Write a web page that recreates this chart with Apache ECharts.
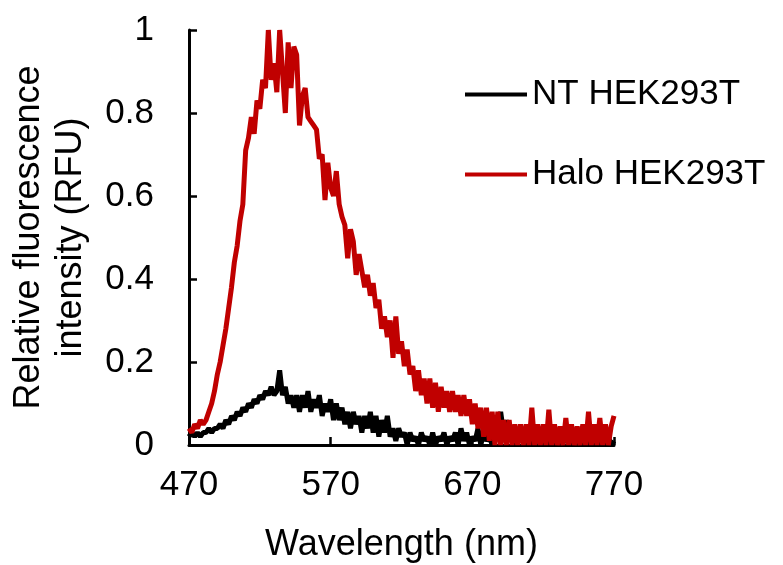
<!DOCTYPE html>
<html>
<head>
<meta charset="utf-8">
<script src="https://cdn.jsdelivr.net/npm/echarts@6/dist/echarts.min.js"></script>
<style>
  html, body { margin: 0; padding: 0; background: #fff; }
  #spectrumChart { width: 783px; height: 565px; }
</style>
</head>
<body>
<div id="spectrumChart"></div>
<script>
// emission spectra, sampled every 2 nm from 470 to 770 nm
const wlStart = 470
const wlStep = 2
const seriesNames = ['NT HEK293T', 'Halo HEK293T']
const xTicks = [470, 570, 670, 770]
const yTicks = [0, 0.2, 0.4, 0.6, 0.8, 1]

const ntValues = [
  0.02, 0.03, 0.02, 0.03, 0.02, 0.03, 0.03, 0.04, 0.03, 0.04,
  0.04, 0.05, 0.04, 0.06, 0.05, 0.07, 0.06, 0.08, 0.07, 0.09,
  0.08, 0.10, 0.09, 0.11, 0.10, 0.12, 0.11, 0.13, 0.12, 0.14,
  0.12, 0.13, 0.18, 0.12, 0.14, 0.10, 0.12, 0.09, 0.12, 0.08,
  0.12, 0.09, 0.13, 0.08, 0.11, 0.09, 0.12, 0.07, 0.10, 0.08,
  0.11, 0.06, 0.10, 0.06, 0.09, 0.05, 0.08, 0.04, 0.08, 0.05,
  0.07, 0.03, 0.07, 0.04, 0.08, 0.03, 0.07, 0.02, 0.06, 0.03,
  0.07, 0.02, 0.04, 0.01, 0.04, 0.02, 0.03, 0.00, 0.03, 0.01,
  0.02, 0.00, 0.03, 0.01, 0.02, 0.00, 0.03, 0.00, 0.02, 0.01,
  0.03, 0.00, 0.02, 0.01, 0.03, 0.00, 0.04, 0.01, 0.03, 0.00,
  0.02, 0.01, 0.04, 0.00, 0.03, 0.01, 0.02, 0.00, 0.04, 0.01,
  0.08, 0.03, 0.06, 0.01, 0.03, 0.00, 0.02, 0.01, 0.03, 0.00,
  0.02, 0.00, 0.01, 0.02, 0.00, 0.01, 0.02, 0.00, 0.01, 0.00,
  0.02, 0.00, 0.01, 0.02, 0.00, 0.01, 0.00, 0.02, 0.00, 0.01,
  0.00, 0.02, 0.00, 0.01, 0.02, 0.00, 0.01, 0.00, 0.02, 0.00,
  0.01
]

const haloValues = [
  0.04, 0.03, 0.05, 0.04, 0.06, 0.05, 0.06, 0.08, 0.10, 0.13,
  0.17, 0.20, 0.24, 0.28, 0.33, 0.38, 0.44, 0.48, 0.54, 0.58,
  0.71, 0.74, 0.79, 0.75, 0.83, 0.81, 0.88, 0.86, 1.00, 0.88,
  0.92, 0.85, 1.00, 0.90, 0.80, 0.97, 0.86, 0.96, 0.94, 0.77,
  0.84, 0.86, 0.79, 0.78, 0.77, 0.76, 0.69, 0.70, 0.59, 0.68,
  0.62, 0.60, 0.66, 0.58, 0.55, 0.53, 0.45, 0.52, 0.49, 0.41,
  0.46, 0.42, 0.38, 0.41, 0.36, 0.39, 0.33, 0.35, 0.28, 0.31,
  0.26, 0.30, 0.21, 0.31, 0.22, 0.25, 0.19, 0.23, 0.17, 0.19,
  0.13, 0.18, 0.12, 0.16, 0.10, 0.16, 0.09, 0.15, 0.08, 0.14,
  0.09, 0.13, 0.08, 0.13, 0.08, 0.12, 0.07, 0.12, 0.07, 0.11,
  0.05, 0.10, 0.04, 0.09, 0.02, 0.09, 0.01, 0.08, 0.00, 0.08,
  0.00, 0.06, 0.00, 0.06, 0.00, 0.05, 0.00, 0.05, 0.00, 0.05,
  0.00, 0.09, 0.00, 0.05, 0.00, 0.05, 0.00, 0.085, 0.00, 0.05,
  0.00, 0.045, 0.00, 0.065, 0.00, 0.05, 0.00, 0.045, 0.00, 0.05,
  0.00, 0.08, 0.00, 0.05, 0.00, 0.065, 0.00, 0.05, 0.00, 0.045,
  0.07
]

const toPairs = (vals) => vals.map((v, i) => [wlStart + i * wlStep, v])

const fontFamily = '"Liberation Sans", Arial, sans-serif'
const chartDom = document.getElementById('spectrumChart')
const myChart = echarts.init(chartDom, null, { renderer: 'canvas' })

const axisLine = { show: true, lineStyle: { color: '#000', width: 3 } }
const axisTick = { show: true, inside: true, length: 8, lineStyle: { color: '#000', width: 2.5 } }

const option = {
  backgroundColor: '#fff',
  animation: false,
  color: ['#000000', '#c00000'],
  grid: { left: 189, right: 169, top: 30, bottom: 120, outerBoundsMode: 'none' },
  legend: {
    data: seriesNames,
    orient: 'vertical',
    left: 460,
    top: 72,
    itemWidth: 62,
    itemHeight: 4,
    itemGap: 45,
    icon: 'rect',
    textStyle: { fontSize: 35, color: '#000', fontFamily: fontFamily }
  },
  xAxis: {
    type: 'value',
    min: xTicks[0],
    max: xTicks[xTicks.length - 1],
    interval: 100,
    name: 'Wavelength (nm)',
    nameLocation: 'middle',
    nameGap: 82,
    nameTextStyle: { fontSize: 36, color: '#000', fontFamily: fontFamily },
    axisLine: axisLine,
    axisTick: axisTick,
    splitLine: { show: false },
    axisLabel: { fontSize: 35, color: '#000', margin: 23, fontFamily: fontFamily }
  },
  yAxis: {
    type: 'value',
    min: yTicks[0],
    max: yTicks[yTicks.length - 1],
    interval: 0.2,
    name: 'Relative fluorescence\nintensity (RFU)',
    nameLocation: 'middle',
    nameGap: 97,
    nameTextStyle: { fontSize: 36, lineHeight: 42, color: '#000', fontFamily: fontFamily },
    axisLine: axisLine,
    axisTick: axisTick,
    splitLine: { show: false },
    axisLabel: { fontSize: 35, color: '#000', margin: 35, fontFamily: fontFamily }
  },
  series: [
    {
      name: seriesNames[0],
      type: 'line',
      data: toPairs(ntValues),
      showSymbol: false,
      lineStyle: { width: 5, color: '#000000' },
      z: 2
    },
    {
      name: seriesNames[1],
      type: 'line',
      data: toPairs(haloValues),
      showSymbol: false,
      lineStyle: { width: 5, color: '#c00000' },
      z: 3
    }
  ]
}
myChart.setOption(option)
</script>
</body>
</html>
